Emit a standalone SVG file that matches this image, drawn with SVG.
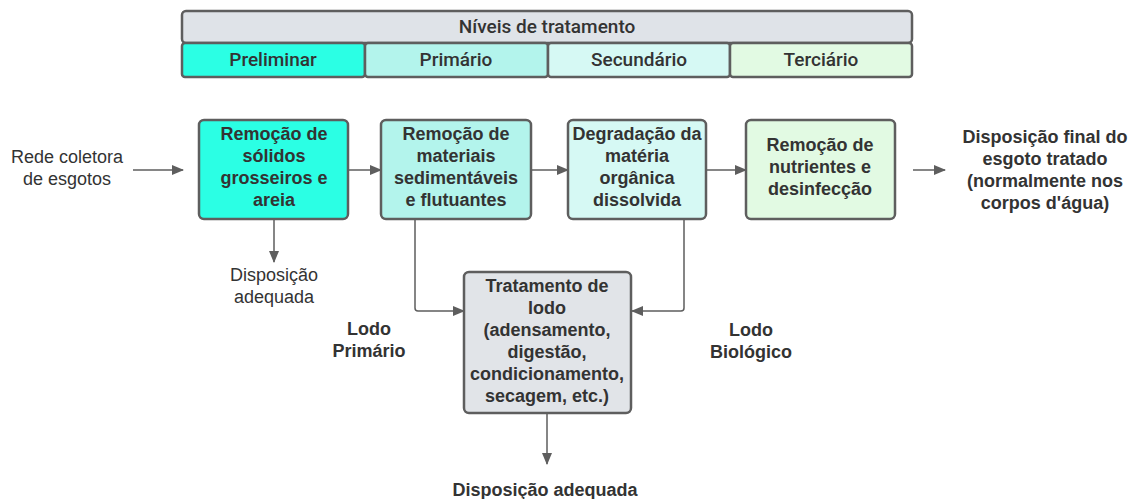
<svg xmlns="http://www.w3.org/2000/svg" width="1136" height="499" viewBox="0 0 1136 499">
<defs>
<marker id="ah" viewBox="0 0 12 10" refX="11" refY="5" markerWidth="12" markerHeight="10" markerUnits="userSpaceOnUse" orient="auto">
<path d="M0,0 L12,5 L0,10 z" fill="#5e5e5e"/>
</marker>
<style>
.box{stroke:#5e5e5e;stroke-width:2.5}
.hd{font-family:Roboto,"Liberation Sans",sans-serif;font-weight:500;font-size:19px;fill:#333;text-anchor:middle}
.bt{font-family:"Liberation Sans",Arial,sans-serif;font-weight:bold;font-size:18px;fill:#333;text-anchor:middle}
.rt{font-family:"Liberation Sans",Arial,sans-serif;font-size:18px;fill:#333;text-anchor:middle}
.cn{fill:none;stroke:#5e5e5e;stroke-width:1.5;marker-end:url(#ah)}
</style>
</defs>
<rect width="1136" height="499" fill="#fff"/>
<g id="header">
<rect class="box" x="182" y="11" width="730" height="32" rx="4" fill="#dfe3e8"/>
<text class="hd" x="547" y="33">Níveis de tratamento</text>
</g>
<g id="lvl-preliminar">
<rect class="box" x="182" y="43" width="183" height="34" rx="3" fill="#2bffe4"/>
<text class="hd" x="273" y="66">Preliminar</text>
</g>
<g id="lvl-primario">
<rect class="box" x="365" y="43" width="183" height="34" rx="3" fill="#b3f4ec"/>
<text class="hd" x="456" y="66">Primário</text>
</g>
<g id="lvl-secundario">
<rect class="box" x="548" y="43" width="182" height="34" rx="3" fill="#d6f9f4"/>
<text class="hd" x="639" y="66">Secundário</text>
</g>
<g id="lvl-terciario">
<rect class="box" x="730" y="43" width="182" height="34" rx="3" fill="#e2fae3"/>
<text class="hd" x="821" y="66">Terciário</text>
</g>
<g id="connectors">
<path class="cn" d="M133,170 H183"/>
<path class="cn" d="M349,170 H381"/>
<path class="cn" d="M532,170 H568"/>
<path class="cn" d="M707,170 H746"/>
<path class="cn" d="M913,170 H945"/>
<path class="cn" d="M274,220 V262"/>
<path class="cn" d="M415,220 V308 Q415,311 418,311 H464"/>
<path class="cn" d="M684,220 V308 Q684,311 681,311 H632"/>
<path class="cn" d="M547,414 V464"/>
</g>
<g id="src">
<text class="rt" x="67" y="163">Rede coletora</text>
<text class="rt" x="67" y="185">de esgotos</text>
</g>
<g id="n1">
<rect class="box" x="199" y="120" width="149" height="99" rx="5" fill="#2bffe4"/>
<text class="bt" x="274" y="140">Remoção de</text>
<text class="bt" x="274" y="162">sólidos</text>
<text class="bt" x="274" y="184">grosseiros e</text>
<text class="bt" x="274" y="206">areia</text>
</g>
<g id="n2">
<rect class="box" x="381" y="120" width="150" height="99" rx="5" fill="#b3f4ec"/>
<text class="bt" x="456" y="140">Remoção de</text>
<text class="bt" x="456" y="162">materiais</text>
<text class="bt" x="456" y="184">sedimentáveis</text>
<text class="bt" x="456" y="206">e flutuantes</text>
</g>
<g id="n3">
<rect class="box" x="568" y="120" width="138" height="99" rx="5" fill="#d6f9f4"/>
<text class="bt" x="637" y="140">Degradação da</text>
<text class="bt" x="637" y="162">matéria</text>
<text class="bt" x="637" y="184">orgânica</text>
<text class="bt" x="637" y="206">dissolvida</text>
</g>
<g id="n4">
<rect class="box" x="746" y="120" width="149" height="99" rx="5" fill="#e2fae3"/>
<text class="bt" x="820" y="151">Remoção de</text>
<text class="bt" x="820" y="173">nutrientes e</text>
<text class="bt" x="820" y="195">desinfecção</text>
</g>
<g id="out">
<text class="bt" x="1045" y="143">Disposição final do</text>
<text class="bt" x="1045" y="165">esgoto tratado</text>
<text class="bt" x="1045" y="187">(normalmente nos</text>
<text class="bt" x="1045" y="209">corpos d'água)</text>
</g>
<g id="disp1">
<text class="rt" x="274" y="281">Disposição</text>
<text class="rt" x="274" y="303">adequada</text>
</g>
<g id="n5">
<rect class="box" x="464" y="272" width="167" height="141" rx="5" fill="#e1e4e8"/>
<text class="bt" x="547" y="292">Tratamento de</text>
<text class="bt" x="547" y="314">lodo</text>
<text class="bt" x="547" y="336">(adensamento,</text>
<text class="bt" x="547" y="358">digestão,</text>
<text class="bt" x="547" y="380">condicionamento,</text>
<text class="bt" x="547" y="402">secagem, etc.)</text>
</g>
<g id="lodo-prim">
<text class="bt" x="369" y="335">Lodo</text>
<text class="bt" x="369" y="357">Primário</text>
</g>
<g id="lodo-bio">
<text class="bt" x="751" y="336">Lodo</text>
<text class="bt" x="751" y="358">Biológico</text>
</g>
<g id="disp2">
<text class="bt" x="545" y="496">Disposição adequada</text>
</g>
</svg>
